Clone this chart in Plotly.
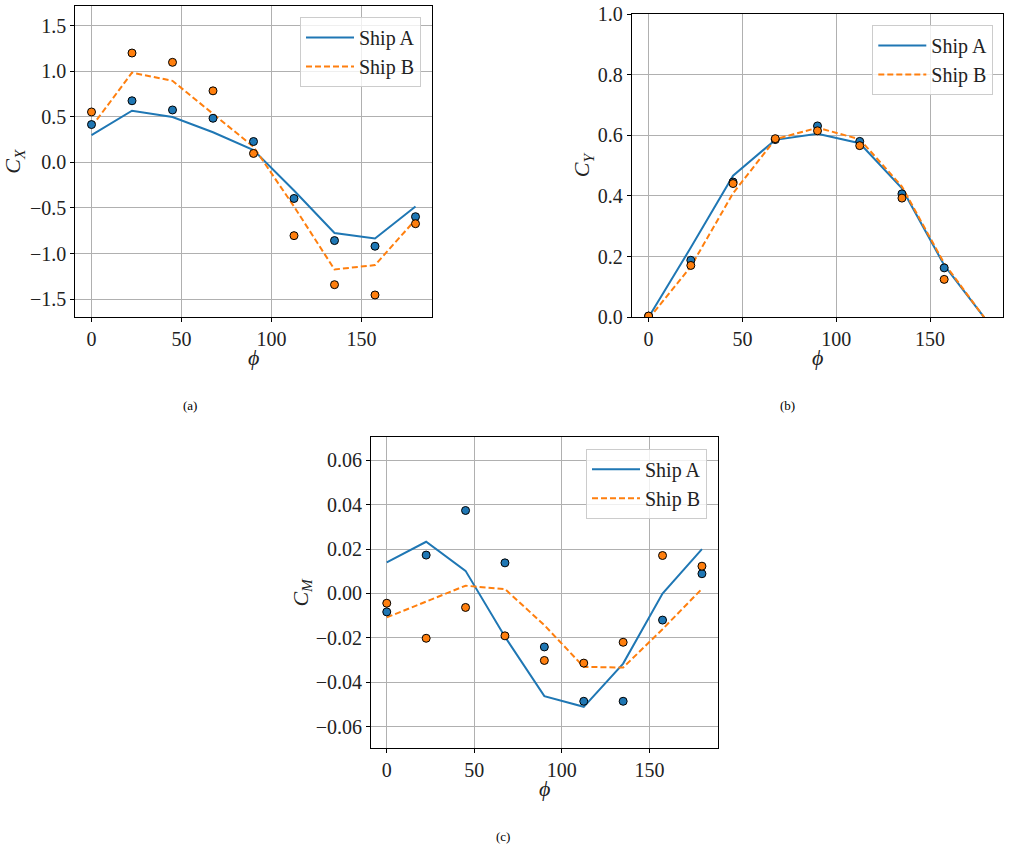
import plotly.graph_objects as go

phi = [0, 22.5, 45, 67.5, 90, 112.5, 135, 157.5, 180]

# Panel (a): C_X
cx_line_a = [0.298, 0.567, 0.498, 0.331, 0.135, -0.309, -0.775, -0.836, -0.484]
cx_line_b = [0.389, 0.985, 0.895, 0.535, 0.171, -0.484, -1.175, -1.127, -0.629]
cx_pts_a = [0.415, 0.676, 0.575, 0.484, 0.229, -0.396, -0.858, -0.92, -0.596]
cx_pts_b = [0.553, 1.200, 1.098, 0.785, 0.098, -0.804, -1.342, -1.455, -0.673]

# Panel (b): C_Y
cy_line_a = [0.0, 0.23, 0.467, 0.585, 0.605, 0.574, 0.425, 0.172, -0.01]
cy_line_b = [-0.005, 0.167, 0.409, 0.587, 0.625, 0.587, 0.431, 0.178, -0.01]
cy_pts_a = [0.004, 0.188, 0.446, 0.586, 0.631, 0.580, 0.407, 0.163, -0.03]
cy_pts_b = [0.004, 0.171, 0.441, 0.589, 0.615, 0.566, 0.393, 0.125, -0.03]

# Panel (c): C_M
cm_line_a = [0.014, 0.0233, 0.0102, -0.0195, -0.0463, -0.0511, -0.0316, 0.0, 0.020]
cm_line_b = [-0.0108, -0.0038, 0.0035, 0.002, -0.0143, -0.0331, -0.0334, -0.0161, 0.0021]
cm_pts_a = [-0.0083, 0.0173, 0.0374, 0.0138, -0.0241, -0.0486, -0.0486, -0.012, 0.0089]
cm_pts_b = [-0.0044, -0.0202, -0.0063, -0.0191, -0.0302, -0.0314, -0.022, 0.0171, 0.0123]

x_ticks = [0, 50, 100, 150]
cx_ticks = [-1.5, -1.0, -0.5, 0.0, 0.5, 1.0, 1.5]
cy_ticks = [0.0, 0.2, 0.4, 0.6, 0.8, 1.0]
cm_ticks = [-0.06, -0.04, -0.02, 0.0, 0.02, 0.04, 0.06]

names = ["Ship A", "Ship B"]
x_label = "<i>ϕ</i>"
captions = ["(a)", "(b)", "(c)"]
BLUE = "#1f77b4"
ORANGE = "#ff7f0e"
FONT = "Liberation Serif"
W, H = 1011, 849

fig = go.Figure()

panels = [
    dict(xa="x", ya="y", lg="legend", lines=(cx_line_a, cx_line_b), pts=(cx_pts_a, cx_pts_b)),
    dict(xa="x2", ya="y2", lg="legend2", lines=(cy_line_a, cy_line_b), pts=(cy_pts_a, cy_pts_b)),
    dict(xa="x3", ya="y3", lg="legend3", lines=(cm_line_a, cm_line_b), pts=(cm_pts_a, cm_pts_b)),
]

for p in panels:
    for vals, col, dash, nm in zip(p["lines"], (BLUE, ORANGE), ("solid", "6px,3px"), names):
        fig.add_trace(go.Scatter(x=phi, y=vals, mode="lines", name=nm,
                                 line=dict(color=col, width=2, dash=dash),
                                 xaxis=p["xa"], yaxis=p["ya"], legend=p["lg"]))
    for vals, col in zip(p["pts"], (BLUE, ORANGE)):
        fig.add_trace(go.Scatter(x=phi, y=vals, mode="markers", showlegend=False,
                                 marker=dict(color=col, size=8, line=dict(color="black", width=1)),
                                 xaxis=p["xa"], yaxis=p["ya"]))

def xdom(l, r):
    return [l / W, r / W]

def ydom(t, b):
    return [1 - b / H, 1 - t / H]

axis_common = dict(showline=True, linecolor="black", linewidth=1, mirror=True,
                   ticks="outside", ticklen=4, tickcolor="black", automargin=False,
                   showgrid=True, gridcolor="#b0b0b0", gridwidth=1, zeroline=False,
                   tickfont=dict(family=FONT, size=20, color="#222"))

title_font = dict(family=FONT, size=22, color="#222")

doms = [
    (xdom(75.3, 431.7), ydom(6, 317.3)),
    (xdom(631.7, 1003.3), ydom(14, 317.3)),
    (xdom(371, 717.7), ydom(437.3, 748.3)),
]

fig.update_layout(
    template="none",
    font=dict(family=FONT, size=16, color="#222"),
    width=W, height=H, margin=dict(l=0, r=0, t=0, b=0, autoexpand=False),
    plot_bgcolor="white", paper_bgcolor="white",
    xaxis=dict(domain=doms[0][0], range=[-9, 189], tickvals=x_ticks, anchor="y", **axis_common),
    yaxis=dict(domain=doms[0][1], range=[-1.70, 1.716], tickvals=cx_ticks, tickformat=".1f", anchor="x",
               title=dict(text="<i>C</i><sub><i>X</i></sub>", font=title_font, standoff=6), **axis_common),
    xaxis2=dict(domain=doms[1][0], range=[-9, 189], tickvals=x_ticks, anchor="y2", **axis_common),
    yaxis2=dict(domain=doms[1][1], range=[0, 1], tickvals=cy_ticks, tickformat=".1f", anchor="x2",
                title=dict(text="<i>C</i><sub><i>Y</i></sub>", font=title_font, standoff=1), **axis_common),
    xaxis3=dict(domain=doms[2][0], range=[-9, 189], tickvals=x_ticks, anchor="y3", **axis_common),
    yaxis3=dict(domain=doms[2][1], range=[-0.0698, 0.0704], tickvals=cm_ticks, tickformat=".2f", anchor="x3",
                title=dict(text="<i>C</i><sub><i>M</i></sub>", font=title_font, standoff=1), **axis_common),
)

legend_common = dict(bgcolor="rgba(255,255,255,0.8)", bordercolor="#cccccc", borderwidth=1,
                     font=dict(family=FONT, size=20, color="#222"), itemwidth=48,
                     xanchor="right", yanchor="top", tracegroupgap=0)

fig.update_layout(
    legend=dict(x=421 / W, y=1 - 17 / H, **legend_common),
    legend2=dict(x=993.3 / W, y=1 - 25 / H, **legend_common),
    legend3=dict(x=707 / W, y=1 - 448.7 / H, **legend_common),
)

# x-axis titles (phi) placed under each panel
for (xd, yd), ty in zip(doms, (357, 357, 788)):
    fig.add_annotation(text=x_label, x=(xd[0] + xd[1]) / 2, y=1 - ty / H, xref="paper", yref="paper",
                       showarrow=False, font=title_font, xanchor="center", yanchor="middle")

caption_font = dict(family=FONT, size=13, color="black")
for txt, cx, cy in zip(captions, (190, 787, 503), (405, 405, 836)):
    fig.add_annotation(text=txt, x=cx / W, y=1 - cy / H, xref="paper", yref="paper",
                       showarrow=False, font=caption_font, xanchor="center", yanchor="middle")

fig.write_html("out.html")
